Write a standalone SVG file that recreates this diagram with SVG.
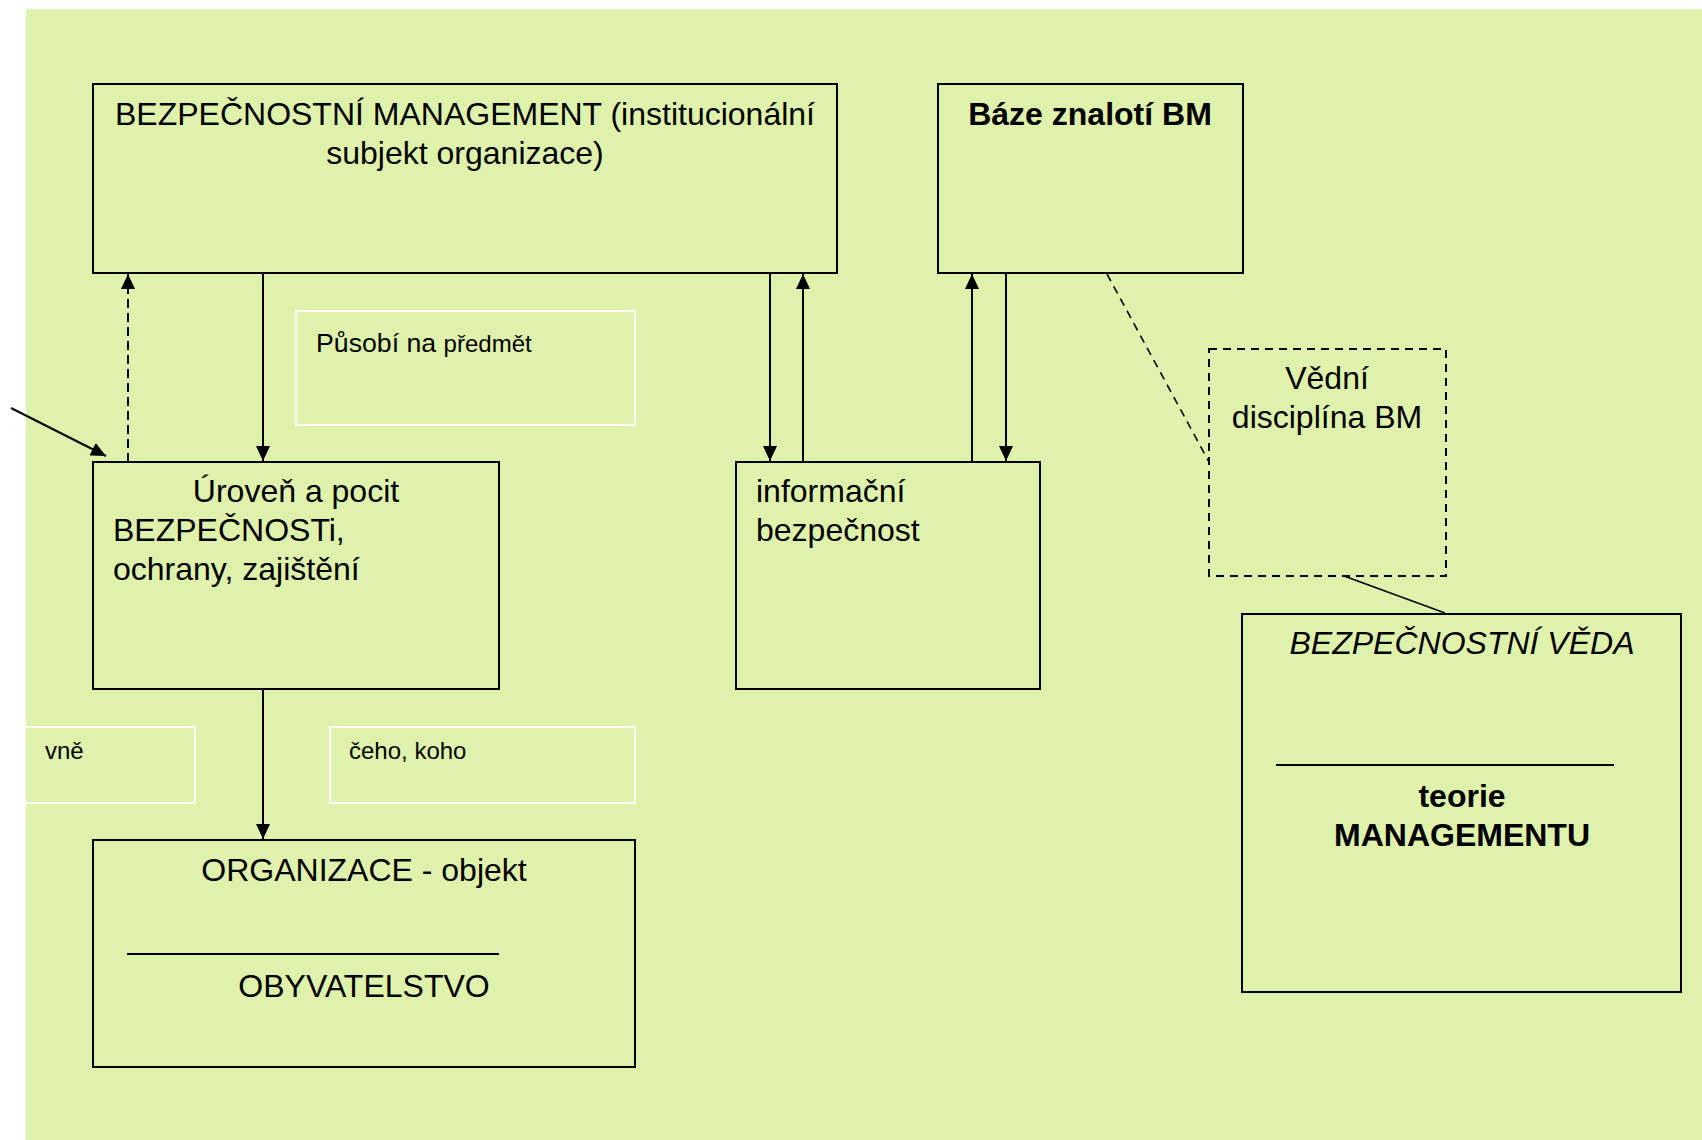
<svg xmlns="http://www.w3.org/2000/svg" width="1702" height="1140" viewBox="0 0 1702 1140">
<style>
text{font-family:"Liberation Sans",Arial,sans-serif;fill:#000}
.t32{font-size:32px}
.t24{font-size:24px}
.box{fill:none;stroke:#000;stroke-width:2}
.wbox{fill:none;stroke:#fff;stroke-width:2}
.dbox{fill:none;stroke:#000;stroke-width:2;stroke-dasharray:8 6}
.c{stroke:#000;stroke-width:2;fill:none}
.cd{stroke:#000;stroke-width:2;fill:none;stroke-dasharray:9 5}
.cd2{stroke:#000;stroke-width:1.6;fill:none;stroke-dasharray:8 6}
.mid{text-anchor:middle}
</style>
<defs>
<marker id="ah" markerUnits="userSpaceOnUse" markerWidth="16" markerHeight="14" refX="15" refY="7" orient="auto" viewBox="0 0 16 14">
<path d="M0,0 L15,7 L0,14 z" fill="#000"/>
</marker>
</defs>
<rect x="0" y="0" width="1702" height="1140" fill="#fff"/>
<rect x="26" y="9" width="1676" height="1131" fill="#dff2ab"/>

<g id="connectors">
<line class="c" x1="263" y1="273" x2="263" y2="461" marker-end="url(#ah)"/>
<line class="cd" x1="128" y1="462" x2="128" y2="274" marker-end="url(#ah)"/>
<line class="c" x1="11" y1="408" x2="106" y2="456" marker-end="url(#ah)"/>
<line class="c" x1="770" y1="273" x2="770" y2="461" marker-end="url(#ah)"/>
<line class="c" x1="803" y1="462" x2="803" y2="274" marker-end="url(#ah)"/>
<line class="c" x1="972" y1="462" x2="972" y2="274" marker-end="url(#ah)"/>
<line class="c" x1="1006" y1="273" x2="1006" y2="461" marker-end="url(#ah)"/>
<line class="c" x1="263" y1="689" x2="263" y2="839" marker-end="url(#ah)"/>
<line class="cd2" x1="1107" y1="274" x2="1209" y2="462"/>
<line stroke="#000" stroke-width="1.6" x1="1344" y1="576" x2="1445" y2="613"/>
</g>

<g id="bm">
<rect class="box" x="93" y="84" width="744" height="189"/>
<text class="t32 mid" x="465" y="125">BEZPEČNOSTNÍ MANAGEMENT (institucionální</text>
<text class="t32 mid" x="465" y="164">subjekt organizace)</text>
</g>

<g id="baze">
<rect class="box" x="938" y="84" width="305" height="189"/>
<text class="t32 mid" x="1090" y="125" font-weight="bold">Báze znalotí BM</text>
</g>

<g id="pusobi">
<rect class="wbox" x="296" y="311" width="339" height="114"/>
<text x="316" y="352"><tspan font-size="26.7px">Působí na </tspan><tspan font-size="24px">předmět</tspan></text>
</g>

<g id="uroven">
<rect class="box" x="93" y="462" width="406" height="227"/>
<text class="t32 mid" x="296" y="502">Úroveň a pocit</text>
<text class="t32" x="113" y="541">BEZPEČNOSTi,</text>
<text class="t32" x="113" y="580">ochrany, zajištění</text>
</g>

<g id="info">
<rect class="box" x="736" y="462" width="304" height="227"/>
<text class="t32" x="756" y="502">informační</text>
<text class="t32" x="756" y="541">bezpečnost</text>
</g>

<g id="vne">
<rect class="wbox" x="20" y="727" width="175" height="76"/>
<text class="t24" x="45" y="759">vně</text>
</g>

<g id="ceho">
<rect class="wbox" x="330" y="727" width="305" height="76"/>
<text class="t24" x="349" y="759">čeho, koho</text>
</g>

<g id="organizace">
<rect class="box" x="93" y="840" width="542" height="227"/>
<text class="t32 mid" x="364" y="881">ORGANIZACE - objekt</text>
<line stroke="#000" stroke-width="2" x1="127" y1="954" x2="499" y2="954"/>
<text class="t32 mid" x="364" y="997">OBYVATELSTVO</text>
</g>

<g id="vedni">
<rect class="dbox" x="1209" y="349" width="237" height="227"/>
<text class="t32 mid" x="1327" y="389">Vědní</text>
<text class="t32 mid" x="1327" y="428">disciplína BM</text>
</g>

<g id="veda">
<rect class="box" x="1242" y="614" width="439" height="378"/>
<text class="t32 mid" x="1462" y="654" font-style="italic">BEZPEČNOSTNÍ VĚDA</text>
<line stroke="#000" stroke-width="2" x1="1276" y1="765" x2="1614" y2="765"/>
<text class="t32 mid" x="1462" y="807" font-weight="bold">teorie</text>
<text class="t32 mid" x="1462" y="846" font-weight="bold">MANAGEMENTU</text>
</g>
</svg>
